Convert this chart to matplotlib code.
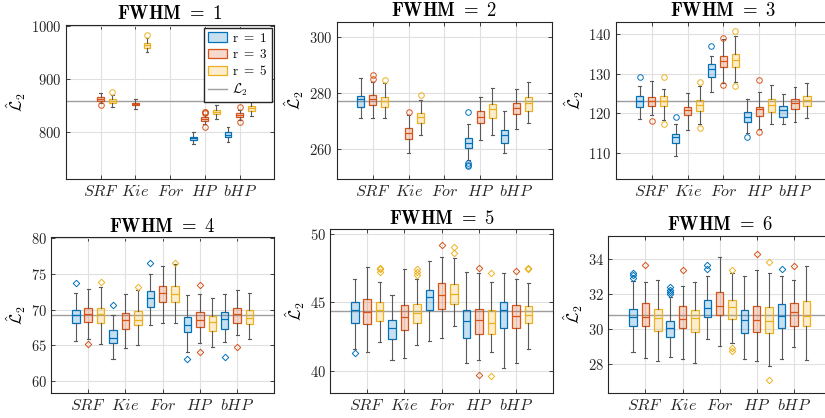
import numpy as np
import matplotlib
matplotlib.use('Agg')
import matplotlib.pyplot as plt
from matplotlib.patches import Patch
from matplotlib.lines import Line2D

plt.rcParams['mathtext.fontset'] = 'cm'
plt.rcParams['font.family'] = 'serif'
plt.rcParams['font.serif'] = ['DejaVu Serif']

nan = np.nan
methods = ['$SRF$', '$Kie$', '$For$', '$HP$', '$bHP$']
r_labels = ['r = 1', 'r = 3', 'r = 5']
colors = ['#0072BD', '#D95319', '#EDB120']

# each stat: rows r=1, r=3, r=5 ; columns SRF, Kie, For, HP, bHP
fwhm1_med = [[nan, nan, nan, 787.4, 794.3], [861.6, 852.2, nan, 824.0, 832.0], [857.9, 963.5, nan, 837.0, 844.0]]
fwhm1_q1 = [[nan, nan, nan, 783.6, 790.0], [858.5, 849.7, nan, 819.5, 827.7], [853.5, 958.5, nan, 832.7, 839.0]]
fwhm1_q3 = [[nan, nan, nan, 791.0, 798.7], [864.8, 854.7, nan, 827.7, 835.8], [861.6, 967.3, nan, 840.0, 847.8]]
fwhm1_lo = [[nan, nan, nan, 776.7, 781.0], [854.7, 842.0, nan, 814.5, 822.0], [846.0, 949.7, nan, 824.0, 830.0]]
fwhm1_hi = [[nan, nan, nan, 800.0, 809.4], [873.6, 861.0, nan, 832.0, 841.0], [868.6, 976.0, nan, 849.7, 856.6]]
fwhm1_out = [[[], [], [], [], []],
             [[850.3], [], [], [808.0, 835.0, 836.5, 837.5], [817.6, 846.5]],
             [[874.8], [981.8], [], [], [861.0]]]

fwhm2_med = [[277.7, nan, nan, 262.0, 265.0], [277.8, 265.8, nan, 271.5, 274.7], [276.9, 271.3, nan, 274.1, 276.5]]
fwhm2_q1 = [[275.1, nan, nan, 260.2, 262.3], [275.5, 263.7, nan, 269.1, 272.5], [274.8, 269.1, nan, 270.9, 273.6]]
fwhm2_q3 = [[279.0, nan, nan, 263.8, 266.8], [279.3, 267.4, nan, 273.6, 276.3], [278.4, 272.7, nan, 275.9, 278.4]]
fwhm2_lo = [[270.9, nan, nan, 256.1, 258.7], [270.9, 258.7, nan, 263.2, 267.0], [270.9, 265.0, nan, 265.0, 269.1]]
fwhm2_hi = [[285.2, nan, nan, 268.9, 273.5], [284.0, 272.1, nan, 278.6, 281.2], [283.4, 277.4, nan, 281.6, 284.0]]
fwhm2_out = [[[], [], [], [254.1, 254.4, 254.9, 273.1], []],
             [[285.0, 286.3], [273.1], [], [], []],
             [[284.6], [279.2], [], [], []]]

fwhm3_med = [[123.2, 114.0, 131.1, 119.1, 120.8], [123.2, 120.8, 133.2, 121.0, 122.5], [123.2, 122.1, 133.4, 122.1, 123.3]]
fwhm3_q1 = [[121.7, 112.5, 129.1, 117.9, 119.1], [121.8, 119.5, 131.8, 119.4, 121.2], [121.8, 120.6, 131.8, 120.4, 121.9]]
fwhm3_q3 = [[124.4, 114.7, 132.4, 120.4, 121.8], [124.0, 121.7, 134.6, 121.5, 123.5], [124.4, 123.3, 134.9, 123.5, 124.4]]
fwhm3_lo = [[118.5, 109.2, 125.3, 115.1, 117.2], [119.5, 115.9, 127.6, 116.0, 117.7], [118.3, 117.3, 127.8, 117.2, 118.9]]
fwhm3_hi = [[126.9, 117.2, 134.6, 123.5, 124.9], [128.2, 125.2, 138.8, 125.5, 126.7], [126.1, 127.0, 139.6, 127.2, 127.7]]
fwhm3_out = [[[129.1], [119.1], [137.1], [114.0], []],
             [[118.1], [], [127.2, 139.0], [115.3, 128.4], []],
             [[117.2, 129.1], [116.4, 128.0], [126.9, 140.8], [], []]]

fwhm4_med = [[69.2, 66.1, 71.6, 67.9, 68.7], [69.4, 68.6, 72.4, 68.6, 69.4], [69.4, 68.6, 72.2, 68.3, 68.9]]
fwhm4_q1 = [[68.1, 65.3, 70.4, 66.9, 67.3], [68.3, 67.3, 71.1, 67.6, 68.2], [68.2, 67.9, 71.1, 67.0, 68.0]]
fwhm4_q3 = [[69.9, 67.1, 72.6, 69.0, 69.7], [70.3, 69.5, 73.3, 69.7, 70.3], [70.3, 69.8, 73.3, 69.1, 70.0]]
fwhm4_lo = [[65.6, 63.1, 67.8, 64.1, 65.5], [65.9, 64.6, 68.1, 65.3, 66.4], [65.2, 65.1, 68.1, 64.8, 65.9]]
fwhm4_hi = [[72.4, 69.3, 75.0, 72.1, 72.2], [72.9, 72.2, 76.1, 72.2, 72.8], [73.2, 72.8, 76.4, 71.6, 72.3]]
fwhm4_out = [[[73.8], [70.7], [76.6], [63.1], [63.4]],
             [[65.2], [], [], [64.1, 73.4], [64.8]],
             [[73.9], [73.2], [76.6], [], []]]

fwhm5_med = [[44.4, 43.1, 45.4, 43.6, 44.4], [44.3, 43.9, 45.5, 43.7, 44.0], [44.4, 44.2, 45.6, 43.5, 44.1]]
fwhm5_q1 = [[43.5, 42.3, 44.4, 42.4, 43.1], [43.4, 43.0, 44.5, 42.7, 43.1], [43.6, 43.5, 44.9, 42.7, 43.5]]
fwhm5_q3 = [[45.0, 43.7, 45.9, 44.4, 45.0], [45.2, 44.8, 46.4, 44.5, 44.8], [45.0, 44.9, 46.3, 44.4, 44.7]]
fwhm5_lo = [[41.6, 40.8, 42.2, 40.6, 40.2], [41.4, 40.9, 42.4, 40.8, 40.6], [42.1, 41.9, 43.3, 41.4, 41.6]]
fwhm5_hi = [[46.7, 45.5, 48.0, 47.2, 47.1], [47.6, 47.4, 48.3, 47.1, 46.7], [46.5, 46.7, 48.2, 46.5, 46.4]]
fwhm5_out = [[[41.3], [], [], [], []],
             [[], [], [49.2], [39.7, 47.5], [47.3]],
             [[47.2, 47.4, 47.5], [47.0, 47.2, 47.4], [48.6, 49.0], [39.6, 47.1], [47.4, 47.5]]]

fwhm6_med = [[30.67, 30.02, 31.16, 30.48, 30.74], [30.67, 30.57, 31.3, 30.5, 30.93], [30.6, 30.59, 31.22, 30.44, 30.74]]
fwhm6_q1 = [[30.13, 29.52, 30.65, 29.73, 30.02], [30.13, 30.04, 30.76, 29.79, 30.13], [29.9, 29.83, 30.53, 29.77, 30.13]]
fwhm6_q3 = [[31.12, 30.46, 31.62, 31.05, 31.39], [31.5, 31.28, 32.08, 31.28, 31.45], [31.14, 31.05, 31.66, 31.22, 31.56]]
fwhm6_lo = [[28.65, 28.38, 29.39, 28.3, 28.27], [28.32, 28.29, 28.99, 28.17, 28.93], [28.13, 28.02, 29.16, 27.85, 28.23]]
fwhm6_hi = [[32.72, 31.79, 32.99, 33.0, 32.99], [32.69, 32.44, 34.08, 33.37, 32.8], [32.8, 32.7, 33.2, 33.16, 33.6]]
fwhm6_out = [[[32.88, 33.07, 33.2], [31.98, 32.1, 32.23, 32.36], [33.43, 33.62], [], [33.39]],
             [[33.64], [33.35], [], [34.25], [33.6]],
             [[], [], [28.72, 28.9, 33.37], [27.1, 33.79], []]]

l2_values = [857.4, 276.9, 123.0, 69.3, 44.37, 30.78]
ylims = [(711, 1001), (249.2, 305.2), (103.3, 143.1), (58.3, 80.14), (38.4, 50.32), (26.33, 35.3)]
yticks = [[800, 900, 1000], [260, 280, 300], [110, 120, 130, 140],
          [60, 65, 70, 75, 80], [40, 45, 50], [28, 30, 32, 34]]

panels = [
    (fwhm1_med, fwhm1_q1, fwhm1_q3, fwhm1_lo, fwhm1_hi, fwhm1_out),
    (fwhm2_med, fwhm2_q1, fwhm2_q3, fwhm2_lo, fwhm2_hi, fwhm2_out),
    (fwhm3_med, fwhm3_q1, fwhm3_q3, fwhm3_lo, fwhm3_hi, fwhm3_out),
    (fwhm4_med, fwhm4_q1, fwhm4_q3, fwhm4_lo, fwhm4_hi, fwhm4_out),
    (fwhm5_med, fwhm5_q1, fwhm5_q3, fwhm5_lo, fwhm5_hi, fwhm5_out),
    (fwhm6_med, fwhm6_q1, fwhm6_q3, fwhm6_lo, fwhm6_hi, fwhm6_out),
]

# axes boxes in pixels: left, right, top, bottom
W, H = 825, 418
boxes_px = [(66, 274.3, 25, 179), (336.7, 552.3, 22, 179.3), (616, 830.8, 22, 179.3),
            (51, 274.3, 237.3, 393.3), (330, 553.3, 229.3, 392.7), (608.3, 831, 236, 393)]

fig = plt.figure(figsize=(W / 100, H / 100), dpi=100)
dark = (0.15, 0.15, 0.15)
whisk = (0.35, 0.35, 0.35)

for k, (med, q1, q3, lo, hi, out) in enumerate(panels):
    l, r, t, b = boxes_px[k]
    ax = fig.add_axes([l / W, (H - b) / H, (r - l) / W, (b - t) / H])
    ax.axhline(l2_values[k], color=(0.62, 0.62, 0.62), lw=1.0, zorder=1)
    marker = 'o' if k < 3 else 'D'
    msize = 4 if k < 3 else 3.3
    for ri in range(3):
        for g in range(5):
            if np.isnan(med[ri][g]):
                continue
            stat = dict(med=med[ri][g], q1=q1[ri][g], q3=q3[ri][g],
                        whislo=lo[ri][g], whishi=hi[ri][g], fliers=out[ri][g])
            c = colors[ri]
            ax.bxp([stat], positions=[3 * g + ri + 1], widths=0.6, patch_artist=True,
                   capwidths=0.25,
                   boxprops=dict(facecolor=matplotlib.colors.to_rgba(c, 0.22), edgecolor=c, lw=0.9),
                   medianprops=dict(color=c, lw=0.9),
                   whiskerprops=dict(color=whisk, lw=0.8),
                   capprops=dict(color=whisk, lw=0.8),
                   flierprops=dict(marker=marker, markersize=msize, markerfacecolor='none',
                                   markeredgecolor=c, markeredgewidth=0.7),
                   manage_ticks=False, zorder=3)
    ax.set_xlim(-1, 17)
    ax.set_ylim(*ylims[k])
    ax.set_xticks([2, 5, 8, 11, 14])
    ax.set_xticklabels(methods, fontsize=11.5)
    ax.set_yticks(yticks[k])
    ax.set_yticklabels(['$%d$' % v for v in yticks[k]], fontsize=10.5)
    ax.grid(True, color=(0.88, 0.88, 0.88), lw=0.8, zorder=0)
    ax.set_axisbelow(True)
    ax.tick_params(direction='in', top=True, right=True, length=3, width=0.6,
                   colors=dark, labelcolor=dark, pad=3)
    for sp in ax.spines.values():
        sp.set_color(dark)
        sp.set_linewidth(0.8)
    ax.set_title(r'$\mathbf{FWHM\ =\ %d}$' % (k + 1), fontsize=13.5, pad=4)
    ax.set_ylabel(r'$\hat{\mathcal{L}}_2$', fontsize=12, labelpad=2)

    if k == 0:
        handles = [Patch(facecolor=matplotlib.colors.to_rgba(c, 0.22), edgecolor=c, lw=0.9)
                   for c in colors]
        handles.append(Line2D([], [], color=(0.62, 0.62, 0.62), lw=1.0))
        ax.legend(handles, [r'$\mathrm{r\ =\ 1}$', r'$\mathrm{r\ =\ 3}$', r'$\mathrm{r\ =\ 5}$',
                            r'$\mathcal{L}_2$'],
                  loc='upper right', fontsize=9.5, framealpha=1, fancybox=False,
                  edgecolor=dark, borderaxespad=0.2, handlelength=1.4,
                  handletextpad=0.4, labelspacing=0.25, borderpad=0.3)

fig.savefig('out.png', dpi=100)
